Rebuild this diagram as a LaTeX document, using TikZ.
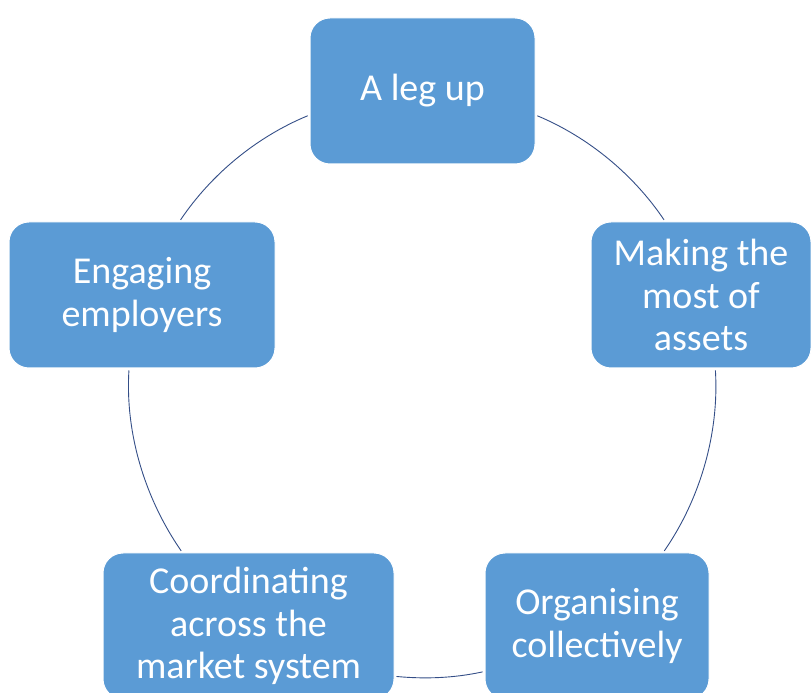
\documentclass[tikz,border=0pt]{standalone}
\usepackage{fontspec}
\setmainfont{Carlito}
\definecolor{boxblue}{HTML}{5B9BD5}
\definecolor{ringblue}{RGB}{52,78,135}

\begin{document}
\begin{tikzpicture}[x=1pt,y=1pt,
  stage/.style={draw=white,line width=1pt,fill=boxblue,rounded corners=20pt,
    minimum height=146pt,align=center,text=white,
    font=\fontsize{38}{42.5}\selectfont},
  ring/.style={draw=ringblue,line width=0.9pt,looseness=.87,
    shorten <=2pt,shorten >=2pt}]

\useasboundingbox (0,0) rectangle (811,693);

\node[stage,minimum width=225pt] (leg) at (422.5,602) {A leg up};
\node[stage,minimum width=220pt] (mak) at (701,398) {Making the\\most of\\assets};
\node[stage,minimum width=224pt] (org) at (597,67) {Organising\\collectively};
\node[stage,minimum width=291pt] (crd) at (248.5,67) {Coordinating\\across the\\market system};
\node[stage,minimum width=266pt] (emp) at (142,398) {Engaging\\employers};

\draw[ring] (leg.-12.4) to[out=-22.7,in=124] (mak.116.4);
\draw[ring] (mak.-79.6) to[out=-86.5,in=55.3] (org.48);
\draw[ring] (org.202.4) to[out=192.4,in=-5.5] (crd.-19.6);
\draw[ring] (crd.132.6) to[out=124.7,in=266.5] (emp.260.4);
\draw[ring] (emp.63) to[out=56,in=202.5] (leg.192.1);

\end{tikzpicture}
\end{document}
